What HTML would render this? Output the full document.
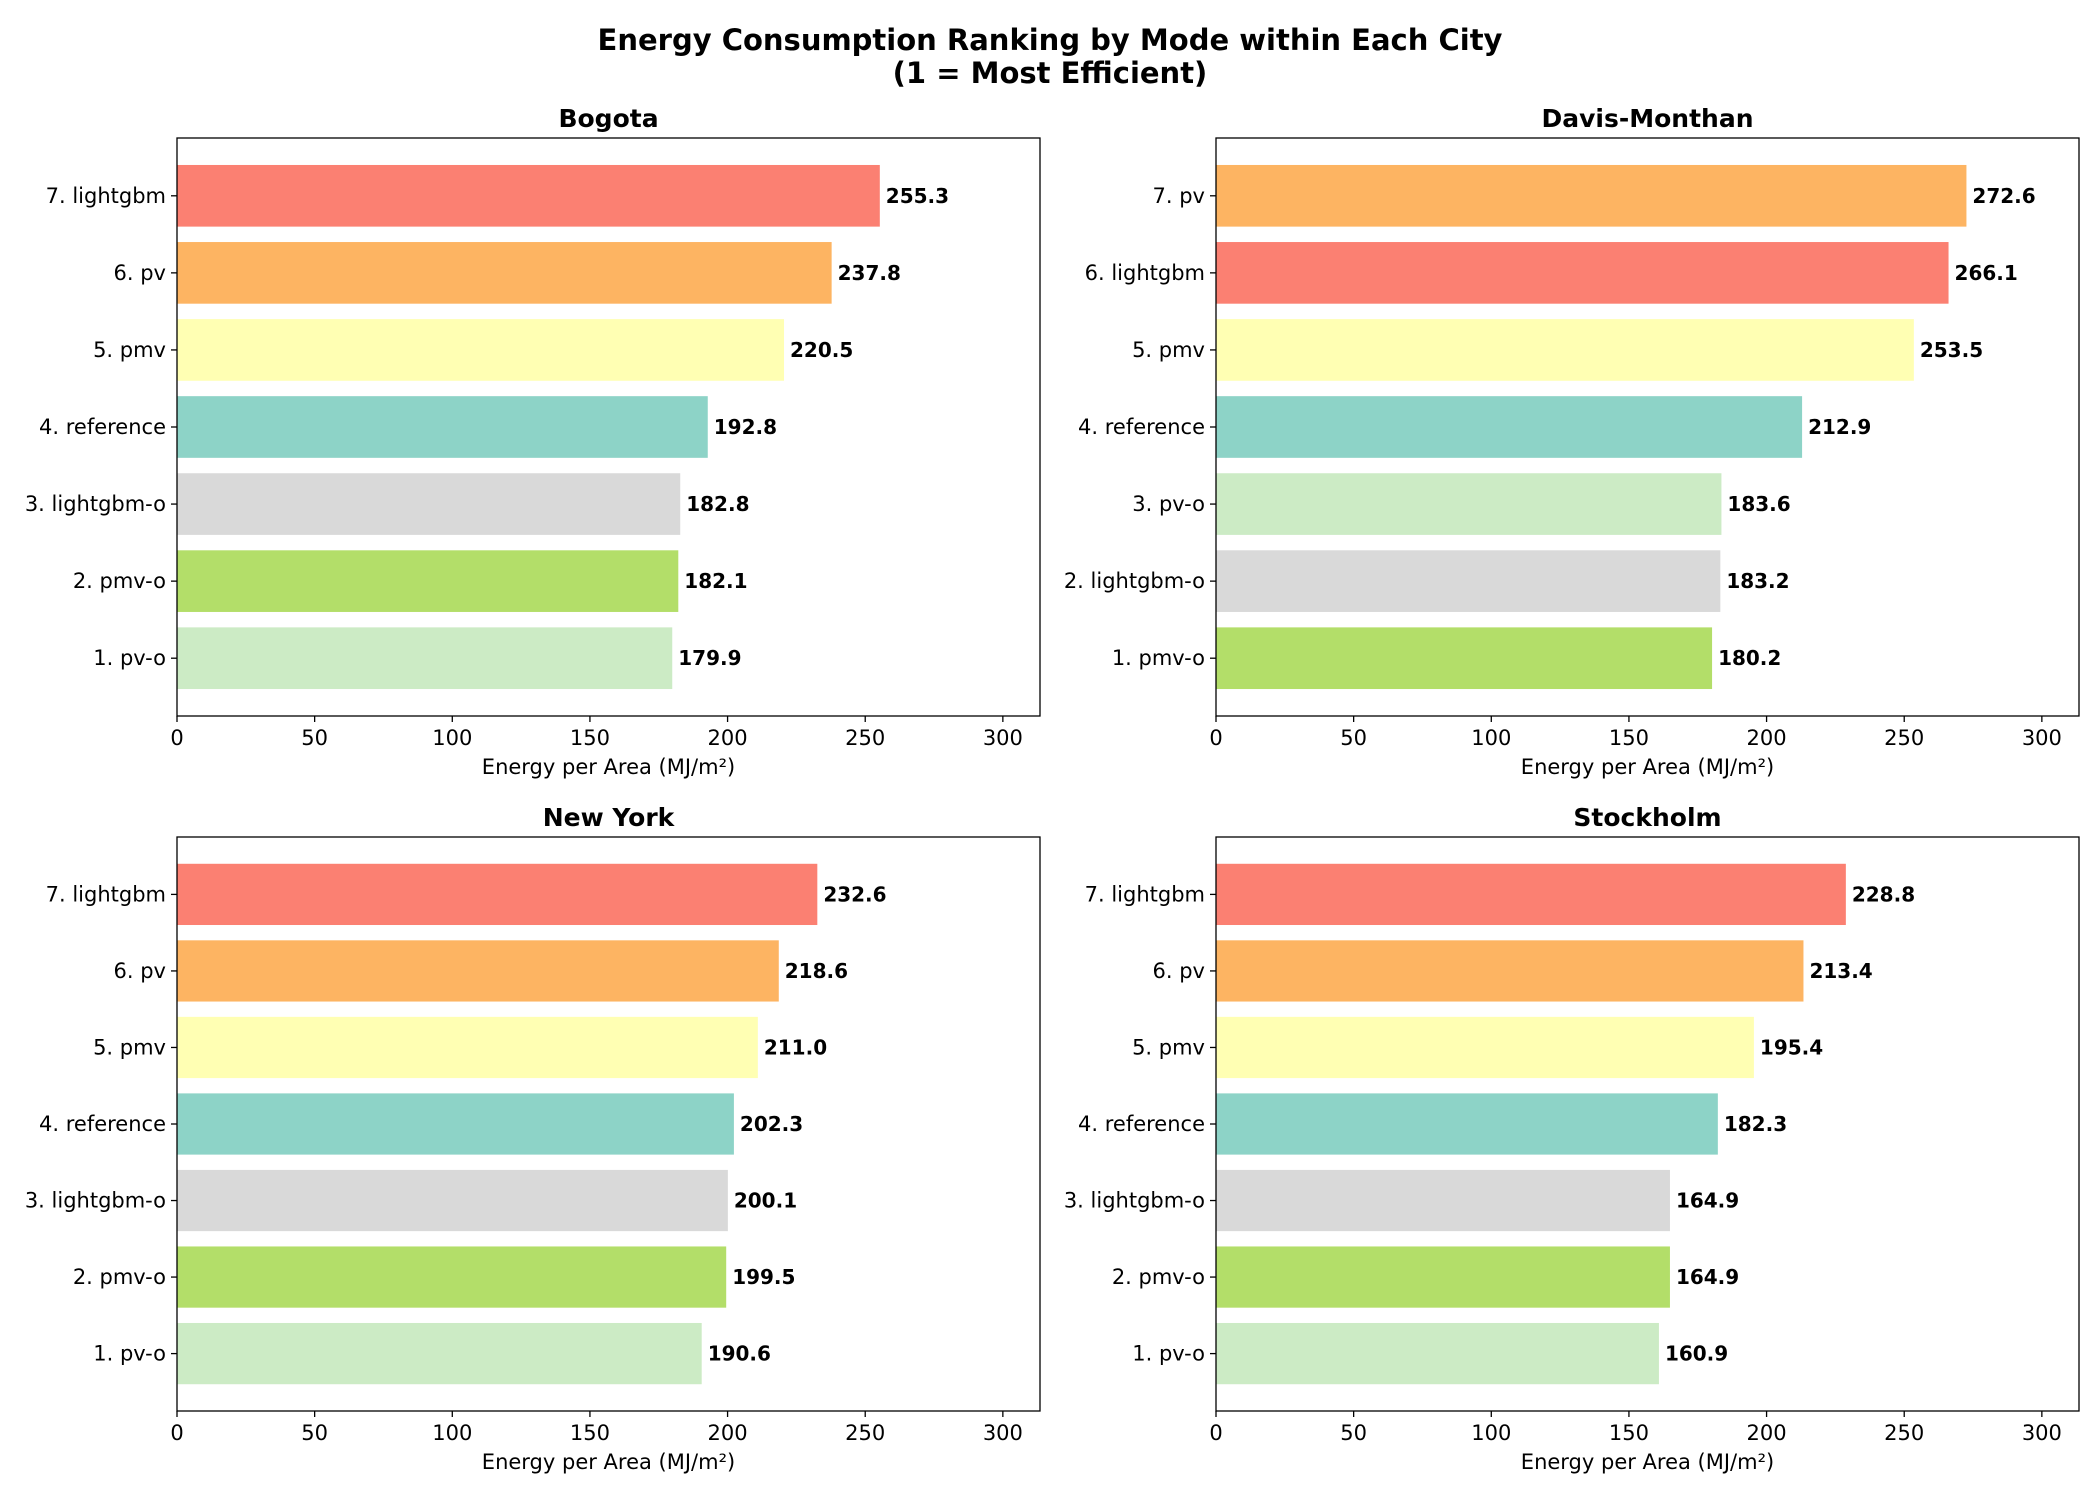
<!DOCTYPE html>
<html><head><meta charset="utf-8"><style>
body{margin:0;background:#fff;font-family:"Liberation Sans","DejaVu Sans",sans-serif}
svg text{font-family:"DejaVu Sans","Liberation Sans",sans-serif}
</style></head><body>
<svg id="fig" width="2100" height="1500" xmlns="http://www.w3.org/2000/svg">
<text x="1050" y="50" text-anchor="middle" font-size="29" font-weight="bold">Energy Consumption Ranking by Mode within Each City</text>
<text x="1050" y="83" text-anchor="middle" font-size="29" font-weight="bold">(1 = Most Efficient)</text>
</svg>
<script>
const cities = ["Bogota","Davis-Monthan","New York","Stockholm"];
const bogotaModes = ["pv-o","pmv-o","lightgbm-o","reference","pmv","pv","lightgbm"];
const bogotaValues = [179.9,182.1,182.8,192.8,220.5,237.8,255.3];
const davisModes = ["pmv-o","lightgbm-o","pv-o","reference","pmv","lightgbm","pv"];
const davisValues = [180.2,183.2,183.6,212.9,253.5,266.1,272.6];
const nyModes = ["pv-o","pmv-o","lightgbm-o","reference","pmv","pv","lightgbm"];
const nyValues = [190.6,199.5,200.1,202.3,211.0,218.6,232.6];
const stockholmModes = ["pv-o","pmv-o","lightgbm-o","reference","pmv","pv","lightgbm"];
const stockholmValues = [160.9,164.9,164.9,182.3,195.4,213.4,228.8];
const xTicks = [0,50,100,150,200,250,300];
const modeColors = {"lightgbm":"#fb8072","pv":"#fdb462","pmv":"#ffffb3","reference":"#8dd3c7","lightgbm-o":"#d9d9d9","pmv-o":"#b3de69","pv-o":"#ccebc5"};

const NS="http://www.w3.org/2000/svg";
const svg=document.getElementById('fig');
function mk(tag,attrs,parent){const e=document.createElementNS(NS,tag);for(const k in attrs)e.setAttribute(k,attrs[k]);(parent||svg).appendChild(e);return e;}
const allMax=Math.max(...bogotaValues,...davisValues,...nyValues,...stockholmValues)*1.15;
const panels=[
 {modes:bogotaModes,values:bogotaValues,L:177,R:1040,T:138,B:716},
 {modes:davisModes,values:davisValues,L:1216,R:2079,T:138,B:716},
 {modes:nyModes,values:nyValues,L:177,R:1040,T:837,B:1411},
 {modes:stockholmModes,values:stockholmValues,L:1216,R:2079,T:837,B:1411}];
panels.forEach((p,pi)=>{
 const g=mk('g',{});
 
 
 const xs=v=>p.L+(v/allMax)*(p.R-p.L);
 const ymin=-0.75,ymax=p.modes.length-1+0.75;
 const ys=v=>p.B-(v-ymin)/(ymax-ymin)*(p.B-p.T);
 const bh=0.8*(p.B-p.T)/(ymax-ymin);
 p.values.forEach((v,i)=>{
  const r=mk('rect',{x:xs(0),y:ys(i)-bh/2,width:xs(v)-xs(0),height:bh,fill:modeColors[p.modes[i]]},g);
  
  
  const t=mk('text',{x:xs(v)+6,y:ys(i)+7,'font-size':20,'font-weight':'bold'},g);
  t.textContent=v.toFixed(1);
  
  
  mk('line',{x1:p.L-6,x2:p.L,y1:ys(i),y2:ys(i),stroke:'#000','stroke-width':1.3},g);
  const yl=mk('text',{x:p.L-11,y:ys(i)+7,'font-size':21,'text-anchor':'end'},g);
  yl.textContent=(i+1)+'. '+p.modes[i];
  
  
 });
 xTicks.forEach(tv=>{
  mk('line',{x1:xs(tv),x2:xs(tv),y1:p.B,y2:p.B+6,stroke:'#000','stroke-width':1.3},g);
  const t=mk('text',{x:xs(tv),y:p.B+29,'font-size':21,'text-anchor':'middle'},g);
  t.textContent=tv;
  
  
 });
 const fr=mk('rect',{x:p.L,y:p.T,width:p.R-p.L,height:p.B-p.T,fill:'none',stroke:'#000','stroke-width':1.3},g);
 
 
 const ti=mk('text',{x:(p.L+p.R)/2,y:p.T-11,'font-size':25,'font-weight':'bold','text-anchor':'middle'},g);
 ti.textContent=cities[pi];
 
 
 const xl=mk('text',{x:(p.L+p.R)/2,y:p.B+58,'font-size':21,'text-anchor':'middle'},g);
 xl.textContent='Energy per Area (MJ/m²)';
 
 
});
</script>
</body></html>
